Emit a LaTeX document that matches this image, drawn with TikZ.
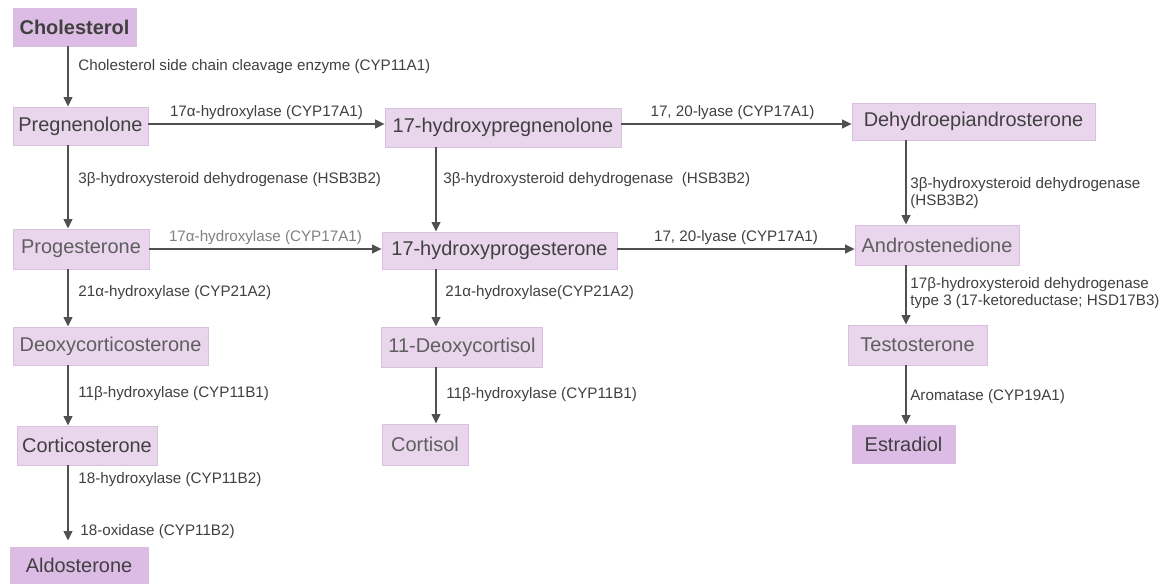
\documentclass[tikz,border=0pt]{standalone}
\usepackage{fontspec}
\setmainfont{Liberation Sans}
\usetikzlibrary{arrows.meta,positioning}
\definecolor{boxfill}{HTML}{E9D6ED}
\definecolor{boxdark}{HTML}{DCBCE4}
\definecolor{boxline}{HTML}{D9C0DF}
\definecolor{txt}{HTML}{404040}
\definecolor{txtfade}{HTML}{5E5E5E}
\definecolor{arr}{HTML}{505050}

\begin{document}
\begin{tikzpicture}[x=0.02cm, y=-0.02cm,
    steroid/.style={fill=boxfill, draw=boxline, line width=0.4pt, inner sep=0pt, text=txt,
      font=\fontsize{11.35}{13}\selectfont},
    keystep/.style={steroid, fill=boxdark},
    faded/.style={steroid, text=txtfade},
    enzyme/.style={anchor=west, inner sep=0pt, align=left, text=txt,
      font=\fontsize{8.65}{9.5}\selectfont},
    conv/.style={draw=arr, line width=1.1pt, -{Triangle[length=1.9mm, width=1.7mm]}}
  ]
    \useasboundingbox (0,0) rectangle (1163,584);

    % Spalten und Zeilen der Pfeile
    \coordinate (c1) at (68,0);
    \coordinate (c2) at (436,0);
    \coordinate (c3) at (906,0);
    \coordinate (r1) at (0,124);
    \coordinate (r2) at (0,249);

    % Steroide
    \node[keystep, minimum width=2.46cm, minimum height=0.76cm, font=\fontsize{11.35}{13}\selectfont\bfseries] (chol) at (74.5,27) {Cholesterol};
    \node[steroid, minimum width=2.70cm, minimum height=0.76cm] (preg) at (80.5,126) {Pregnenolone};
    \node[steroid, minimum width=4.72cm, minimum height=0.78cm] (ohpreg) at (503,127.5) {17-hydroxypregnenolone};
    \node[steroid, minimum width=4.86cm, minimum height=0.74cm] (dhea) at (973.5,121.5) {Dehydroepiandrosterone};
    \node[faded, minimum width=2.72cm, minimum height=0.80cm] (prog) at (81,249) {Progesterone};
    \node[steroid, minimum width=4.70cm, minimum height=0.74cm] (ohprog) at (499.5,250.5) {17-hydroxyprogesterone};
    \node[faded, minimum width=3.28cm, minimum height=0.80cm] (andro) at (937,245) {Androstenedione};
    \node[faded, minimum width=3.90cm, minimum height=0.76cm] (doc) at (110.5,346) {Deoxycorticosterone};
    \node[faded, minimum width=3.22cm, minimum height=0.80cm] (deoxcort) at (462,347) {11-Deoxycortisol};
    \node[faded, minimum width=2.78cm, minimum height=0.80cm] (testo) at (917.5,345) {Testosterone};
    \node[steroid, minimum width=2.80cm, minimum height=0.78cm] (cortico) at (87,445.5) {Corticosterone};
    \node[faded, minimum width=1.72cm, minimum height=0.82cm] (cortisol) at (425,444.5) {Cortisol};
    \node[keystep, minimum width=2.06cm, minimum height=0.76cm] (estra) at (903.5,444) {Estradiol};
    \node[keystep, minimum width=2.76cm, minimum height=0.74cm] (aldo) at (79,565.5) {Aldosterone};

    % Umwandlungen, waagerecht
    \draw[conv] (preg.east |- r1) -- (ohpreg.west |- r1)
      node[midway, above=2.2pt, enzyme, anchor=south] (h1) {17α-hydroxylase (CYP17A1)};
    \draw[conv] (ohpreg.east |- r1) -- (dhea.west |- r1)
      node[midway, above=2.2pt, enzyme, anchor=south, xshift=-0.08cm] (h2) {17, 20-lyase (CYP17A1)};
    \draw[conv] (prog.east |- r2) -- (ohprog.west |- r2)
      node[midway, above=2.2pt, enzyme, anchor=south, text=gray] (h3) {17α-hydroxylase (CYP17A1)};
    \draw[conv] (ohprog.east |- r2) -- (andro.west |- r2)
      node[midway, above=2.2pt, enzyme, anchor=south] (h4) {17, 20-lyase (CYP17A1)};

    % Umwandlungen, senkrecht
    \draw[conv] (chol.south -| c1) -- (preg.north -| c1);
    \draw[conv] (preg.south -| c1) -- (prog.north -| c1);
    \draw[conv] (prog.south -| c1) -- (doc.north -| c1);
    \draw[conv] (doc.south -| c1) -- (cortico.north -| c1);
    \draw[conv, shorten >=0.12cm] (cortico.south -| c1) -- (aldo.north -| c1);

    \draw[conv] (ohpreg.south -| c2) -- (ohprog.north -| c2);
    \draw[conv] (ohprog.south -| c2) -- (deoxcort.north -| c2);
    \draw[conv] (deoxcort.south -| c2) -- (cortisol.north -| c2);

    \draw[conv] (dhea.south -| c3) -- (andro.north -| c3);
    \draw[conv] (andro.south -| c3) -- (testo.north -| c3);
    \draw[conv] (testo.south -| c3) -- (estra.north -| c3);

    % Enzyme
    \node[enzyme] (e1) at (78,66.7) {Cholesterol side chain cleavage enzyme (CYP11A1)};
    \node[enzyme] (e2) at (78,180) {3β-hydroxysteroid dehydrogenase (HSB3B2)};
    \node[enzyme] (e3) at (443,180) {3β-hydroxysteroid dehydrogenase\ \ (HSB3B2)};
    \node[enzyme] (e4) at (910,193) {3β-hydroxysteroid dehydrogenase\\(HSB3B2)};
    \node[enzyme] (e5) at (78,292.7) {21α-hydroxylase (CYP21A2)};
    \node[enzyme] (e6) at (445,292.7) {21α-hydroxylase(CYP21A2)};
    \node[enzyme] (e7) at (910,293) {17β-hydroxysteroid dehydrogenase\\type 3 (17-ketoreductase; HSD17B3)};
    \node[enzyme] (e8) at (78,394) {11β-hydroxylase (CYP11B1)};
    \node[enzyme] (e9) at (446,395) {11β-hydroxylase (CYP11B1)};
    \node[enzyme] (e10) at (910,396.7) {Aromatase (CYP19A1)};
    \node[enzyme] (e11) at (78,480) {18-hydroxylase (CYP11B2)};
    \node[enzyme] (e12) at (80,531.7) {18-oxidase (CYP11B2)};
  \end{tikzpicture}
\end{document}
